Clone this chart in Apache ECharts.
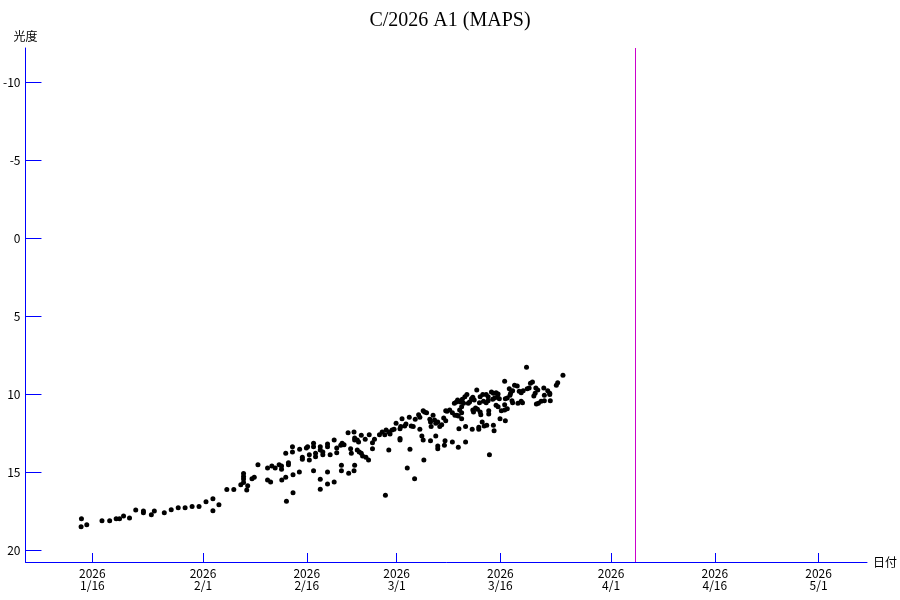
<!DOCTYPE html>
<html>
<head>
<meta charset="utf-8">
<title>C/2026 A1 (MAPS)</title>
<script src="https://cdn.jsdelivr.net/npm/echarts@6/dist/echarts.min.js"></script>
<style>
  html, body { margin: 0; padding: 0; background: #fff; }
  #main { width: 900px; height: 600px; }
</style>
</head>
<body>
<div id="main"></div>
<script>
// 観測日 (2026年の通日) と光度
const days = [
  14.42, 14.37, 15.19, 17.39, 18.50, 19.44, 19.93, 20.51, 21.37, 22.27,
  23.38, 23.38, 24.53, 24.96, 26.40, 27.40, 28.41, 29.41, 30.42, 31.42,
  32.43, 33.43, 33.43, 34.30, 35.44, 36.45, 37.46, 37.86, 37.86, 37.86,
  37.86, 38.46, 38.32, 39.08, 39.41, 39.94, 41.33, 41.33, 41.77, 41.95,
  42.43, 43.00, 43.35, 43.35, 43.39, 43.96, 43.96, 44.35, 44.35, 44.93,
  44.93, 45.01, 45.01, 44.06, 45.97, 45.93, 46.36, 46.36, 46.94, 47.12,
  47.37, 47.37, 47.98, 47.98, 47.98, 48.27, 48.27, 48.95, 48.95, 48.95,
  48.95, 49.32, 49.32, 50.00, 50.00, 50.00, 50.00, 50.38, 50.96, 50.96,
  51.33, 51.33, 51.91, 52.11, 52.01, 52.01, 52.39, 52.97, 53.06, 53.34,
  53.44, 53.83, 53.92, 53.92, 53.92, 53.83, 54.30, 54.49, 54.30, 54.59,
  54.88, 54.88, 55.45, 55.07, 55.55, 55.93, 56.03, 56.50, 56.50, 56.79,
  57.51, 57.90, 58.28, 58.47, 58.86, 59.04, 58.86, 59.33, 59.62, 59.91,
  60.48, 60.58, 60.77, 60.48, 60.48, 61.16, 61.34, 61.53, 61.82, 61.92,
  62.10, 62.39, 62.59, 62.68, 63.17, 63.35, 63.35, 63.64, 63.83, 63.83,
  64.03, 64.32, 63.93, 64.79, 64.89, 64.98, 64.89, 65.26, 65.47, 65.65,
  65.94, 65.65, 65.94, 65.94, 66.23, 66.51, 68.42, 68.71, 69.39, 58.37,
  78.77, 84.04, 83.28, 83.08, 75.61, 77.04, 77.43, 76.28, 77.72, 78.00,
  78.29, 79.34, 79.63, 78.87, 79.15, 76.76, 76.47, 80.12, 80.40, 81.27,
  81.84, 82.13, 80.02, 79.83, 81.35, 82.13, 80.88, 81.35, 82.21, 80.20,
  80.49, 71.58, 73.70, 73.98, 74.37, 74.66, 72.45, 72.94, 73.22, 72.07,
  71.97, 69.86, 70.15, 68.81, 69.20, 69.49, 69.67, 70.82, 71.01, 71.21,
  68.34, 68.63, 70.35, 70.54, 72.55, 72.94, 73.22, 73.88, 74.17, 74.56,
  74.84, 75.71, 75.99, 76.38, 74.37, 74.66, 75.61, 76.67, 76.76, 77.53,
  78.00, 78.19, 67.09, 67.28, 67.66, 68.05, 66.80, 67.09, 69.10, 69.39,
  68.91, 69.39, 71.01, 71.11, 71.40, 71.68, 72.07, 72.16, 73.31, 73.31,
  75.13, 75.61, 75.99, 74.94, 75.71, 72.36, 69.00, 69.96, 70.92, 71.87,
  71.87, 72.65, 73.02, 73.98, 74.08, 66.99, 66.90, 68.05, 68.91, 69.96,
  73.41
];
const mags = [
  17.99, 18.51, 18.38, 18.12, 18.12, 17.99, 17.99, 17.82, 17.95, 17.44,
  17.50, 17.61, 17.74, 17.50, 17.61, 17.42, 17.29, 17.29, 17.22, 17.22,
  16.90, 16.71, 17.48, 17.10, 16.13, 16.13, 15.81, 15.10, 15.29, 15.45,
  15.67, 15.88, 16.15, 15.43, 15.34, 14.53, 14.74, 15.51, 15.64, 14.61,
  14.74, 14.53, 14.61, 14.83, 15.51, 13.80, 15.34, 14.40, 14.53, 13.38,
  13.72, 15.17, 16.33, 16.88, 13.54, 15.00, 14.06, 14.19, 13.46, 13.38,
  13.89, 14.23, 13.16, 13.38, 14.92, 14.02, 13.80, 13.38, 13.59, 15.47,
  16.11, 13.72, 13.89, 13.20, 13.38, 15.00, 15.77, 13.89, 12.95, 15.64,
  13.46, 13.76, 13.29, 13.16, 14.57, 14.92, 13.25, 12.48, 15.08, 13.51,
  13.80, 12.44, 12.82, 12.95, 14.57, 14.92, 12.95, 13.08, 13.59, 13.72,
  13.80, 12.65, 12.90, 13.97, 14.06, 14.23, 12.61, 13.12, 13.51, 12.90,
  12.61, 12.44, 12.61, 12.31, 12.44, 12.56, 13.59, 12.31, 12.26, 11.88,
  12.22, 12.09, 11.58, 12.86, 12.95, 12.05, 11.92, 14.74, 11.49, 13.54,
  12.05, 12.09, 15.43, 11.62, 11.33, 11.49, 12.26, 12.69, 12.95, 11.07,
  11.15, 11.20, 14.23, 11.62, 11.79, 12.09, 12.99, 11.36, 11.67, 11.88,
  11.79, 12.69, 13.33, 13.51, 12.09, 11.97, 11.36, 11.36, 10.81, 16.49,
  8.29, 8.80, 9.28, 9.44, 9.19, 9.44, 9.49, 9.66, 9.83, 9.92,
  9.79, 9.31, 9.23, 9.66, 9.61, 9.79, 9.96, 9.61, 9.74, 9.61,
  9.79, 9.96, 9.96, 10.13, 10.08, 10.04, 10.47, 10.43, 10.43, 10.64,
  10.60, 9.74, 9.87, 9.96, 9.92, 10.00, 10.04, 10.04, 10.17, 10.17,
  10.56, 10.17, 10.04, 10.38, 10.51, 10.34, 10.60, 10.30, 10.21, 10.38,
  10.60, 10.51, 10.60, 10.51, 10.47, 10.56, 10.43, 10.34, 10.26, 10.17,
  10.30, 10.30, 10.26, 10.08, 10.72, 10.81, 10.69, 10.43, 10.56, 10.60,
  10.47, 10.56, 11.07, 11.11, 11.03, 11.20, 11.54, 11.71, 11.03, 11.20,
  11.41, 11.58, 11.03, 11.15, 10.90, 10.98, 11.15, 11.33, 11.07, 11.28,
  11.07, 11.03, 10.94, 11.58, 11.71, 11.79, 12.22, 12.09, 12.26, 12.13,
  12.26, 12.05, 12.01, 12.01, 12.35, 12.99, 13.29, 13.08, 13.42, 13.08,
  13.89
];

// 目盛り
const xTickDays = [16, 32, 47, 60, 75, 91, 106, 121];
const xTickLabels = ['2026\n1/16', '2026\n2/1', '2026\n2/16', '2026\n3/1',
  '2026\n3/16', '2026\n4/1', '2026\n4/16', '2026\n5/1'];
const yTicks = [-10, -5, 0, 5, 10, 15, 20];
const perihelionDay = 94.52;

const points = days.map((d, i) => [d, mags[i]]);

const chart = echarts.init(document.getElementById('main'));
const blue = '#0000ff';
const labelFont = '"Noto Sans CJK JP", sans-serif';

chart.setOption({
  animation: false,
  backgroundColor: '#fff',
  title: {
    text: 'C/2026 A1 (MAPS)',
    left: 'center',
    top: 6,
    textStyle: {
      fontFamily: '"Liberation Serif", serif',
      fontSize: 20,
      fontWeight: 'normal',
      color: '#000'
    }
  },
  grid: { left: 23, right: 30, top: 48, bottom: 38 },
  xAxis: {
    type: 'value',
    min: 6.33,
    max: 128,
    name: '日付',
    nameLocation: 'end',
    nameGap: 6,
    nameTextStyle: { color: '#000', fontSize: 12, fontFamily: labelFont },
    axisLine: { onZero: false, lineStyle: { color: blue, width: 1 } },
    axisTick: { show: true, inside: true, length: 9, customValues: xTickDays, lineStyle: { color: blue } },
    axisLabel: {
      customValues: xTickDays,
      color: '#000',
      fontSize: 12,
      lineHeight: 12,
      margin: 5,
      fontFamily: labelFont,
      formatter: v => {
        const i = xTickDays.indexOf(Math.round(v));
        return i >= 0 ? xTickLabels[i] : '';
      }
    },
    splitLine: { show: false }
  },
  yAxis: {
    type: 'value',
    inverse: true,
    min: -12.18,
    max: 20.77,
    name: '光度',
    nameLocation: 'start',
    nameGap: 6,
    nameTextStyle: { color: '#000', fontSize: 12, fontFamily: labelFont, align: 'center' },
    axisLine: { onZero: false, lineStyle: { color: blue, width: 1 } },
    axisTick: { show: true, inside: true, length: 16, customValues: yTicks, lineStyle: { color: blue } },
    axisLabel: {
      customValues: yTicks,
      color: '#000',
      fontSize: 12,
      margin: 5,
      fontFamily: labelFont
    },
    splitLine: { show: false }
  },
  series: [{
    type: 'scatter',
    data: points,
    symbol: 'circle',
    symbolSize: 5,
    itemStyle: { color: '#000', opacity: 1 },
    markLine: {
      silent: true,
      symbol: 'none',
      label: { show: false },
      lineStyle: { color: '#cc00cc', width: 1, type: 'solid', opacity: 1 },
      data: [{ xAxis: perihelionDay }]
    }
  }]
});
</script>
</body>
</html>
